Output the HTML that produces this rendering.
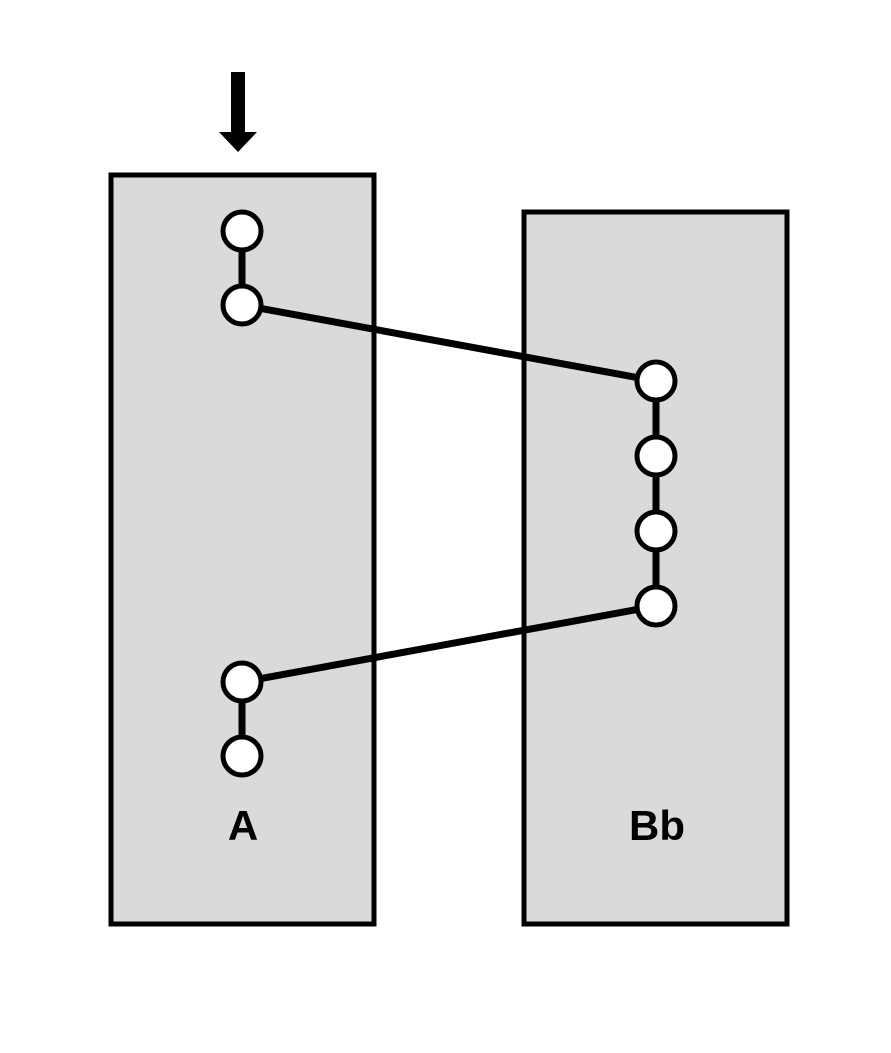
<!DOCTYPE html>
<html><head><style>body{margin:0;background:#fff}</style></head><body>
<svg width="891" height="1048" viewBox="0 0 891 1048" xmlns="http://www.w3.org/2000/svg">
<rect x="111" y="175" width="263" height="749" fill="#d9dbda" stroke="#000" stroke-width="5"/>
<rect x="524" y="212" width="263" height="712" fill="#d9dbda" stroke="#000" stroke-width="5"/>
<rect x="231" y="72" width="14" height="61" fill="#000"/>
<polygon points="219,132 257,132 238,152" fill="#000"/>
<g stroke="#000" stroke-width="7">
<line x1="242" y1="231" x2="242" y2="305"/>
<line x1="242" y1="305" x2="656" y2="381"/>
<line x1="656" y1="381" x2="656" y2="606"/>
<line x1="656" y1="606" x2="242" y2="682"/>
<line x1="242" y1="682" x2="242" y2="756"/>
</g>
<g fill="#fff" stroke="#000" stroke-width="5">
<circle cx="242" cy="231" r="19"/><circle cx="242" cy="305" r="19"/>
<circle cx="656" cy="381" r="19"/><circle cx="656" cy="456" r="19"/>
<circle cx="656" cy="531" r="19"/><circle cx="656" cy="606" r="19"/>
<circle cx="242" cy="682" r="19"/><circle cx="242" cy="756" r="19"/>
</g>
<g font-family="Liberation Sans, sans-serif" font-weight="bold" font-size="42" text-anchor="middle">
<text x="243" y="840">A</text>
<text x="657" y="840">Bb</text>
</g>
</svg>
</body></html>
